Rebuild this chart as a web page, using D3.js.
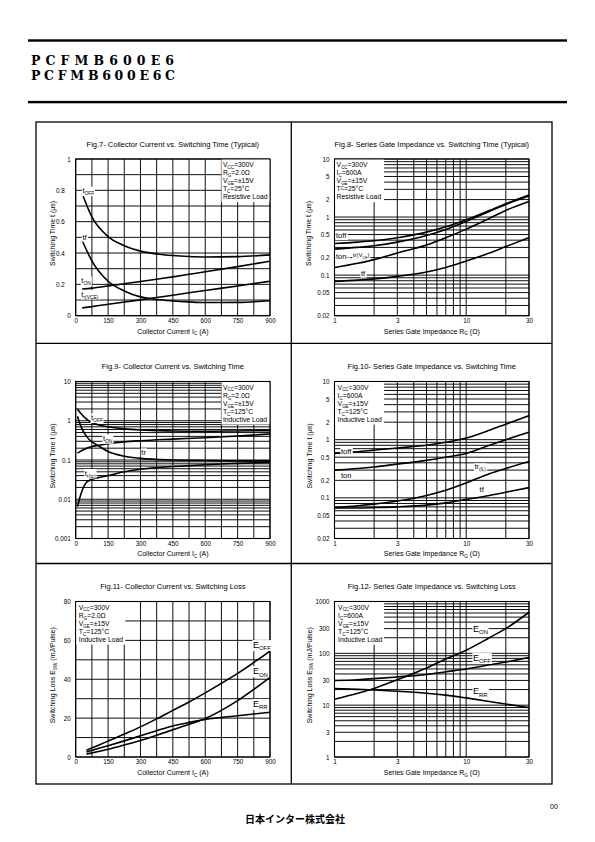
<!DOCTYPE html>
<html><head><meta charset="utf-8">
<script src="https://cdn.jsdelivr.net/npm/d3@7"></script>
<style>body{margin:0;background:#fff}svg{display:block}</style>
</head><body>
<script>
// ---------- DATA ----------
const partNumbers = ["PCFMB600E6", "PCFMB600E6C"];
const companyName = "日本インター株式会社";
const pageNumber = "00";

const currentGrid = [0,75,150,225,300,375,450,525,600,675,750,825,900];
const currentTicks = [0,150,300,450,600,750,900];
const timeLinGrid = [0,0.1,0.2,0.3,0.4,0.5,0.6,0.7,0.8,0.9,1];
const timeLinTicks = [0,0.2,0.4,0.6,0.8,1];
const rgTicks = [1,3,10,30];
const timeRgTicks = [0.02,0.05,0.1,0.2,0.5,1,2,5,10];
const timeIcLogTicks = [0.001,0.01,0.1,1,10];
const lossLinGrid = [0,10,20,30,40,50,60,70,80];
const lossLinTicks = [0,20,40,60,80];
const lossLogTicks = [1,3,10,30,100,300,1000];

// Fig.7
const fig7Current = [30, 75, 150, 225, 300, 375, 450, 525, 600, 750, 900];
const fig7tOff  = [0.78, 0.63, 0.505, 0.447, 0.412, 0.394, 0.384, 0.378, 0.375, 0.377, 0.388];
const fig7tf    = [0.48, 0.35, 0.22, 0.158, 0.12, 0.103, 0.094, 0.088, 0.084, 0.085, 0.095];
const fig7tOn   = [0.17, 0.176, 0.19, 0.204, 0.218, 0.233, 0.248, 0.264, 0.28, 0.313, 0.348];
const fig7trVce = [0.05, 0.058, 0.073, 0.087, 0.101, 0.116, 0.131, 0.146, 0.161, 0.19, 0.22];
// Fig.8
const fig8Rg    = [1, 1.5, 2, 3, 5, 7, 10, 15, 20, 30];
const fig8tOff  = [0.35, 0.37, 0.39, 0.44, 0.55, 0.68, 0.9, 1.3, 1.7, 2.4];
const fig8tOn   = [0.28, 0.3, 0.32, 0.37, 0.48, 0.61, 0.84, 1.25, 1.65, 2.3];
const fig8trVce = [0.135, 0.16, 0.185, 0.24, 0.33, 0.44, 0.62, 0.95, 1.3, 1.85];
const fig8tf    = [0.078, 0.082, 0.086, 0.095, 0.113, 0.135, 0.175, 0.24, 0.31, 0.44];
// Fig.9
const fig9Current = [8, 25, 50, 75, 100, 150, 225, 300, 450, 600, 750, 900];
const fig9tOff  = [2.0, 1.5, 1.1, 0.9, 0.8, 0.7, 0.62, 0.58, 0.55, 0.54, 0.55, 0.56];
const fig9tOn   = [0.15, 0.17, 0.2, 0.22, 0.235, 0.26, 0.29, 0.31, 0.34, 0.37, 0.41, 0.46];
const fig9tr    = [1.3, 0.7, 0.4, 0.29, 0.24, 0.165, 0.125, 0.11, 0.1, 0.097, 0.095, 0.095];
const fig9trTc  = [0.0065, 0.014, 0.027, 0.032, 0.035, 0.04, 0.05, 0.058, 0.068, 0.076, 0.082, 0.087];
// Fig.10
const fig10Rg    = [1, 1.5, 2, 3, 5, 7, 10, 15, 20, 30];
const fig10tOff  = [0.58, 0.62, 0.66, 0.72, 0.8, 0.9, 1.07, 1.45, 1.85, 2.6];
const fig10tOn   = [0.3, 0.32, 0.34, 0.38, 0.44, 0.5, 0.58, 0.8, 1.0, 1.35];
const fig10trIl  = [0.068, 0.073, 0.078, 0.088, 0.11, 0.135, 0.18, 0.26, 0.32, 0.42];
const fig10tf    = [0.067, 0.067, 0.068, 0.07, 0.075, 0.082, 0.094, 0.11, 0.125, 0.15];
// Fig.11
const fig11Current = [50, 100, 150, 225, 300, 375, 450, 525, 600, 750, 900];
const fig11Eoff = [3.5, 5.8, 8.2, 11.8, 15.5, 19.6, 24, 28.3, 33, 43, 54.5];
const fig11Eon  = [1.5, 2.7, 4, 6.2, 8.5, 11.2, 14, 16.8, 19.8, 29, 41];
const fig11Err  = [2.6, 4.2, 5.8, 8.3, 10.9, 13.5, 16, 17.8, 19.3, 21.2, 23];
// Fig.12
const fig12Rg   = [1, 1.5, 2, 3, 5, 7, 10, 15, 20, 30];
const fig12Eon  = [13, 17, 21, 31, 52, 78, 115, 200, 300, 620];
const fig12Eoff = [30, 31, 32.5, 35, 39, 44, 50, 60, 68, 83];
const fig12Err  = [21, 20.2, 19.6, 18.6, 17, 15.6, 13.8, 11.8, 10.5, 9];

// Conditions text (segments: [text, 1=sub, 2=sup])
const condResist25Rg = [[["V"],["CC",1],["=300V"]],[["R"],["G",1],["=2.0Ω"]],[["V"],["GE",1],["=±15V"]],[["T"],["C",1],["=25°C"]],[["Resistive Load"]]];
const condResist25Ic = [[["V"],["CC",1],["=300V"]],[["I"],["C",1],["=600A"]],[["V"],["GE",1],["=±15V"]],[["T"],["C",2],["=25°C"]],[["Resistive Load"]]];
const condInd125Rg  = [[["V"],["CC",1],["=300V"]],[["R"],["G",1],["=2.0Ω"]],[["V"],["GE",1],["=±15V"]],[["T"],["C",1],["=125°C"]],[["Inductive Load"]]];
const condInd125Ic  = [[["V"],["CC",1],["=300V"]],[["I"],["C",1],["=600A"]],[["V"],["GE",1],["=±15V"]],[["T"],["C",1],["=125°C"]],[["Inductive Load"]]];

const titles = [
  "Fig.7- Collector Current vs. Switching Time (Typical)",
  "Fig.8- Series Gate Impedance vs. Switching Time  (Typical)",
  "Fig.9- Collector Current vs. Switching Time",
  "Fig.10- Series Gate Impedance vs. Switching Time",
  "Fig.11- Collector Current vs. Switching Loss",
  "Fig.12- Series Gate Impedance vs. Switching Loss"
];
const xLabelIc = [["Collector Current I"],["C",1],["  (A)"]];
const xLabelRg = [["Series Gate Impedance R"],["G",1],["  (Ω)"]];
const yLabelTime = [["Switching Time t  (µs)"]];
const yLabelLoss = [["Switching Loss E"],["SW",1],[" (mJ/Pulse)"]];

// ---------- DRAWING ----------
const FONT = "'Liberation Sans', Arial, Helvetica, sans-serif";
const svg = d3.select("body").append("svg").attr("width",595).attr("height",842);
svg.append("rect").attr("width",595).attr("height",842).attr("fill","#fff");

function rich(t, segs, size){
  let cur = 0;
  segs.forEach(s => {
    const mode = s[1] || 0;
    const target = mode===1 ? size*0.28 : mode===2 ? -size*0.22 : 0;
    const ts = t.append("tspan").attr("dy", (target-cur).toFixed(2)).text(s[0]);
    if (mode) ts.attr("font-size", (size*0.66).toFixed(2));
    cur = target;
  });
}
function txt(g, x, y, segs, size, opts={}){
  const t = g.append("text").attr("x",x).attr("y",y).attr("font-family",opts.family||FONT)
    .attr("font-size",size).attr("fill","#000");
  if (opts.anchor) t.attr("text-anchor",opts.anchor);
  if (opts.weight) t.attr("font-weight",opts.weight);
  if (opts.rotate) t.attr("transform",`rotate(-90,${x},${y})`);
  rich(t, segs, size);
  if (opts.bg){
    const b = t.node().getBBox();
    g.insert("rect", () => t.node()).attr("x",b.x-0.6).attr("y",b.y+0.3)
      .attr("width",b.width+1.2).attr("height",b.height-0.6).attr("fill","#fff");
  }
  return t;
}

// header
svg.append("rect").attr("x",28).attr("y",39.3).attr("width",539).attr("height",2.4).attr("fill","#000");
svg.append("rect").attr("x",28).attr("y",100.9).attr("width",539).attr("height",2.4).attr("fill","#000");
[[64.9,143],[79.7,144]].forEach((p,i)=>{
  svg.append("text").attr("x",31).attr("y",p[0]).attr("textLength",p[1]).attr("lengthAdjust","spacing")
    .attr("font-family","'DejaVu Serif', 'Liberation Serif', serif").attr("font-size",12.5)
    .attr("font-weight","bold").attr("fill","#000").text(partNumbers[i]);
});

// outer frame
svg.append("rect").attr("x",36).attr("y",122).attr("width",516).attr("height",662)
  .attr("fill","none").attr("stroke","#000").attr("stroke-width",1.3);
svg.append("line").attr("x1",291.3).attr("x2",291.3).attr("y1",122).attr("y2",784).attr("stroke","#000").attr("stroke-width",1.3);
[343.3,563.5].forEach(y=>svg.append("line").attr("x1",36).attr("x2",552).attr("y1",y).attr("y2",y).attr("stroke","#000").attr("stroke-width",1.3));

const COLS = [[75.7,270],[334.5,529]];
const ROWS = [[159,315.7],[381.5,538.5],[601.5,757]];

function drawPanel(p){
  const [x0,x1] = COLS[p.col], [y0,y1] = ROWS[p.row];
  const g = svg.append("g");
  const x = (p.xLog ? d3.scaleLog() : d3.scaleLinear()).domain(p.xDomain).range([x0,x1]);
  const y = (p.yLog ? d3.scaleLog() : d3.scaleLinear()).domain(p.yDomain).range([y1,y0]);
  const xg = p.xGrid || x.ticks();
  const yg = p.yGrid || y.ticks();
  g.append("g").selectAll("line").data(xg).join("line")
    .attr("x1",d=>x(d)).attr("x2",d=>x(d)).attr("y1",y0).attr("y2",y1)
    .attr("stroke","#000").attr("stroke-width",0.95);
  g.append("g").selectAll("line").data(yg).join("line")
    .attr("y1",d=>y(d)).attr("y2",d=>y(d)).attr("x1",x0).attr("x2",x1)
    .attr("stroke","#000").attr("stroke-width",0.95);
  g.append("rect").attr("x",x0).attr("y",y0).attr("width",x1-x0).attr("height",y1-y0)
    .attr("fill","none").attr("stroke","#000").attr("stroke-width",1.1);

  // condition box
  const lw = p.legendW, lh = 42.5;
  const lx = p.legendSide==="right" ? x1-lw-0.6 : x0+0.6;
  g.append("rect").attr("x",lx).attr("y",y0+0.6).attr("width",lw).attr("height",lh).attr("fill","#fff");
  p.legend.forEach((segs,i)=> txt(g, lx+p.legendPad, y0+8+i*8.1, segs, 6.8));

  // curves
  const line = d3.line().x(d=>x(d[0])).y(d=>y(d[1])).curve(d3.curveMonotoneX);
  p.series.forEach(s=>{
    g.append("path").datum(p.xs.map((v,i)=>[v,s[i]])).attr("d",line)
      .attr("fill","none").attr("stroke","#000").attr("stroke-width",1.6);
  });
  // curve labels
  p.labels.forEach(l=> txt(g, x(l.x), y(l.y), l.segs, l.size, {bg:true}));

  // axes (tick labels only)
  const ax = g.append("g").attr("transform",`translate(0,${y1})`)
    .call(d3.axisBottom(x).tickValues(p.xTicks).tickFormat(d=>String(d)).tickSize(0).tickPadding(3));
  ax.select(".domain").remove();
  ax.attr("font-family",FONT).attr("font-size",6.3);
  ax.selectAll("text").attr("fill","#000");
  const ay = g.append("g").attr("transform",`translate(${x0},0)`)
    .call(d3.axisLeft(y).tickValues(p.yTicks).tickFormat(d=>String(d)).tickSize(0).tickPadding(5));
  ay.select(".domain").remove();
  ay.attr("font-family",FONT).attr("font-size",6.3);
  ay.selectAll("text").attr("fill","#000");
  if (p.decimalOffset) ay.selectAll("text").filter(d=>d%1!==0).attr("x",-p.decimalOffset);

  // titles and axis labels
  txt(g, (x0+x1)/2, y0-12.3, [[p.title]], 7.5, {anchor:"middle"});
  txt(g, (x0+x1)/2, y1+17.8, p.xLabel, 7, {anchor:"middle"});
  const ylx = p.col===0 ? 55 : 311.5;
  txt(g, ylx, (y0+y1)/2 - 4, p.yLabel, 7, {anchor:"middle", rotate:true});
}

drawPanel({col:0,row:0,title:titles[0],xDomain:[0,900],yDomain:[0,1],xGrid:currentGrid,yGrid:timeLinGrid,
  xTicks:currentTicks,yTicks:timeLinTicks,decimalOffset:11,legend:condResist25Rg,legendSide:"right",legendW:48,legendPad:1.5,
  xs:fig7Current,series:[fig7tOff,fig7tf,fig7tOn,fig7trVce],xLabel:xLabelIc,yLabel:yLabelTime,
  labels:[{x:31,y:0.781,segs:[["t"],["OFF",1]],size:7.5},{x:31,y:0.483,segs:[["tf"]],size:7.5},
          {x:26,y:0.207,segs:[["t"],["ON",1]],size:7.5},{x:26,y:0.121,segs:[["t"],["r(V",1],["CE",1],[")",1]],size:7.5}]});

drawPanel({col:1,row:0,title:titles[1],xLog:true,yLog:true,xDomain:[1,30],yDomain:[0.02,10],
  xTicks:rgTicks,yTicks:timeRgTicks,legend:condResist25Ic,legendSide:"left",legendW:49,legendPad:1.5,
  xs:fig8Rg,series:[fig8tOff,fig8tOn,fig8trVce,fig8tf],xLabel:xLabelRg,yLabel:yLabelTime,
  labels:[{x:1.027,y:0.43,segs:[["toff"]],size:7.5},{x:1.027,y:0.192,segs:[["ton-"]],size:7.5},
          {x:1.38,y:0.205,segs:[["tr(V"],["CE",1],[")"]],size:5.8},{x:1.59,y:0.0966,segs:[["tf"]],size:7.5}]});

drawPanel({col:0,row:1,title:titles[2],yLog:true,xDomain:[0,900],yDomain:[0.001,10],xGrid:currentGrid,
  xTicks:currentTicks,yTicks:timeIcLogTicks,legend:condInd125Rg,legendSide:"right",legendW:48,legendPad:1.5,
  xs:fig9Current,series:[fig9tOff,fig9tOn,fig9tr,fig9trTc],xLabel:xLabelIc,yLabel:yLabelTime,
  labels:[{x:71,y:1.03,segs:[["t"],["OFF",1]],size:7.5},{x:126,y:0.305,segs:[["t"],["ON",1]],size:7.5},
          {x:304,y:0.134,segs:[["tr"]],size:7.5},{x:42,y:0.0398,segs:[["t"],["r(tc)",1]],size:7.5}]});

drawPanel({col:1,row:1,title:titles[3],xLog:true,yLog:true,xDomain:[1,30],yDomain:[0.02,10],
  xTicks:rgTicks,yTicks:timeRgTicks,legend:condInd125Ic,legendSide:"left",legendW:49,legendPad:2.5,
  xs:fig10Rg,series:[fig10tOff,fig10tOn,fig10trIl,fig10tf],xLabel:xLabelRg,yLabel:yLabelTime,
  labels:[{x:1.12,y:0.574,segs:[["toff"]],size:7.5},{x:1.12,y:0.222,segs:[["ton"]],size:7.5},
          {x:11.6,y:0.313,segs:[["tr"],["(IL)",1]],size:7},{x:12.65,y:0.126,segs:[["tf"]],size:7.5}]});

drawPanel({col:0,row:2,title:titles[4],xDomain:[0,900],yDomain:[0,80],xGrid:currentGrid,yGrid:lossLinGrid,
  xTicks:currentTicks,yTicks:lossLinTicks,legend:condInd125Rg,legendSide:"left",legendW:49,legendPad:2.5,
  xs:fig11Current,series:[fig11Eoff,fig11Eon,fig11Err],xLabel:xLabelIc,yLabel:yLabelLoss,
  labels:[{x:821,y:56.2,segs:[["E"],["OFF",1]],size:9},{x:821,y:42.7,segs:[["E"],["ON",1]],size:9},
          {x:821,y:25.9,segs:[["E"],["RR",1]],size:9}]});

drawPanel({col:1,row:2,title:titles[5],xLog:true,yLog:true,xDomain:[1,30],yDomain:[1,1000],
  xTicks:rgTicks,yTicks:lossLogTicks,legend:condInd125Ic,legendSide:"left",legendW:49,legendPad:3,
  xs:fig12Rg,series:[fig12Eon,fig12Eoff,fig12Err],xLabel:xLabelRg,yLabel:yLabelLoss,
  labels:[{x:11.27,y:261,segs:[["E"],["ON",1]],size:9},{x:11.27,y:71.9,segs:[["E"],["OFF",1]],size:9},
          {x:11.27,y:16.2,segs:[["E"],["RR",1]],size:9}]});

// footer
svg.append("text").attr("x",550).attr("y",809).attr("font-family",FONT).attr("font-size",7).attr("fill","#000").text(pageNumber);
svg.append("text").attr("x",245).attr("y",823).attr("font-family","'Noto Sans CJK JP', sans-serif")
  .attr("font-size",10).attr("font-weight","bold").attr("fill","#000").text(companyName);
</script>
</body></html>
